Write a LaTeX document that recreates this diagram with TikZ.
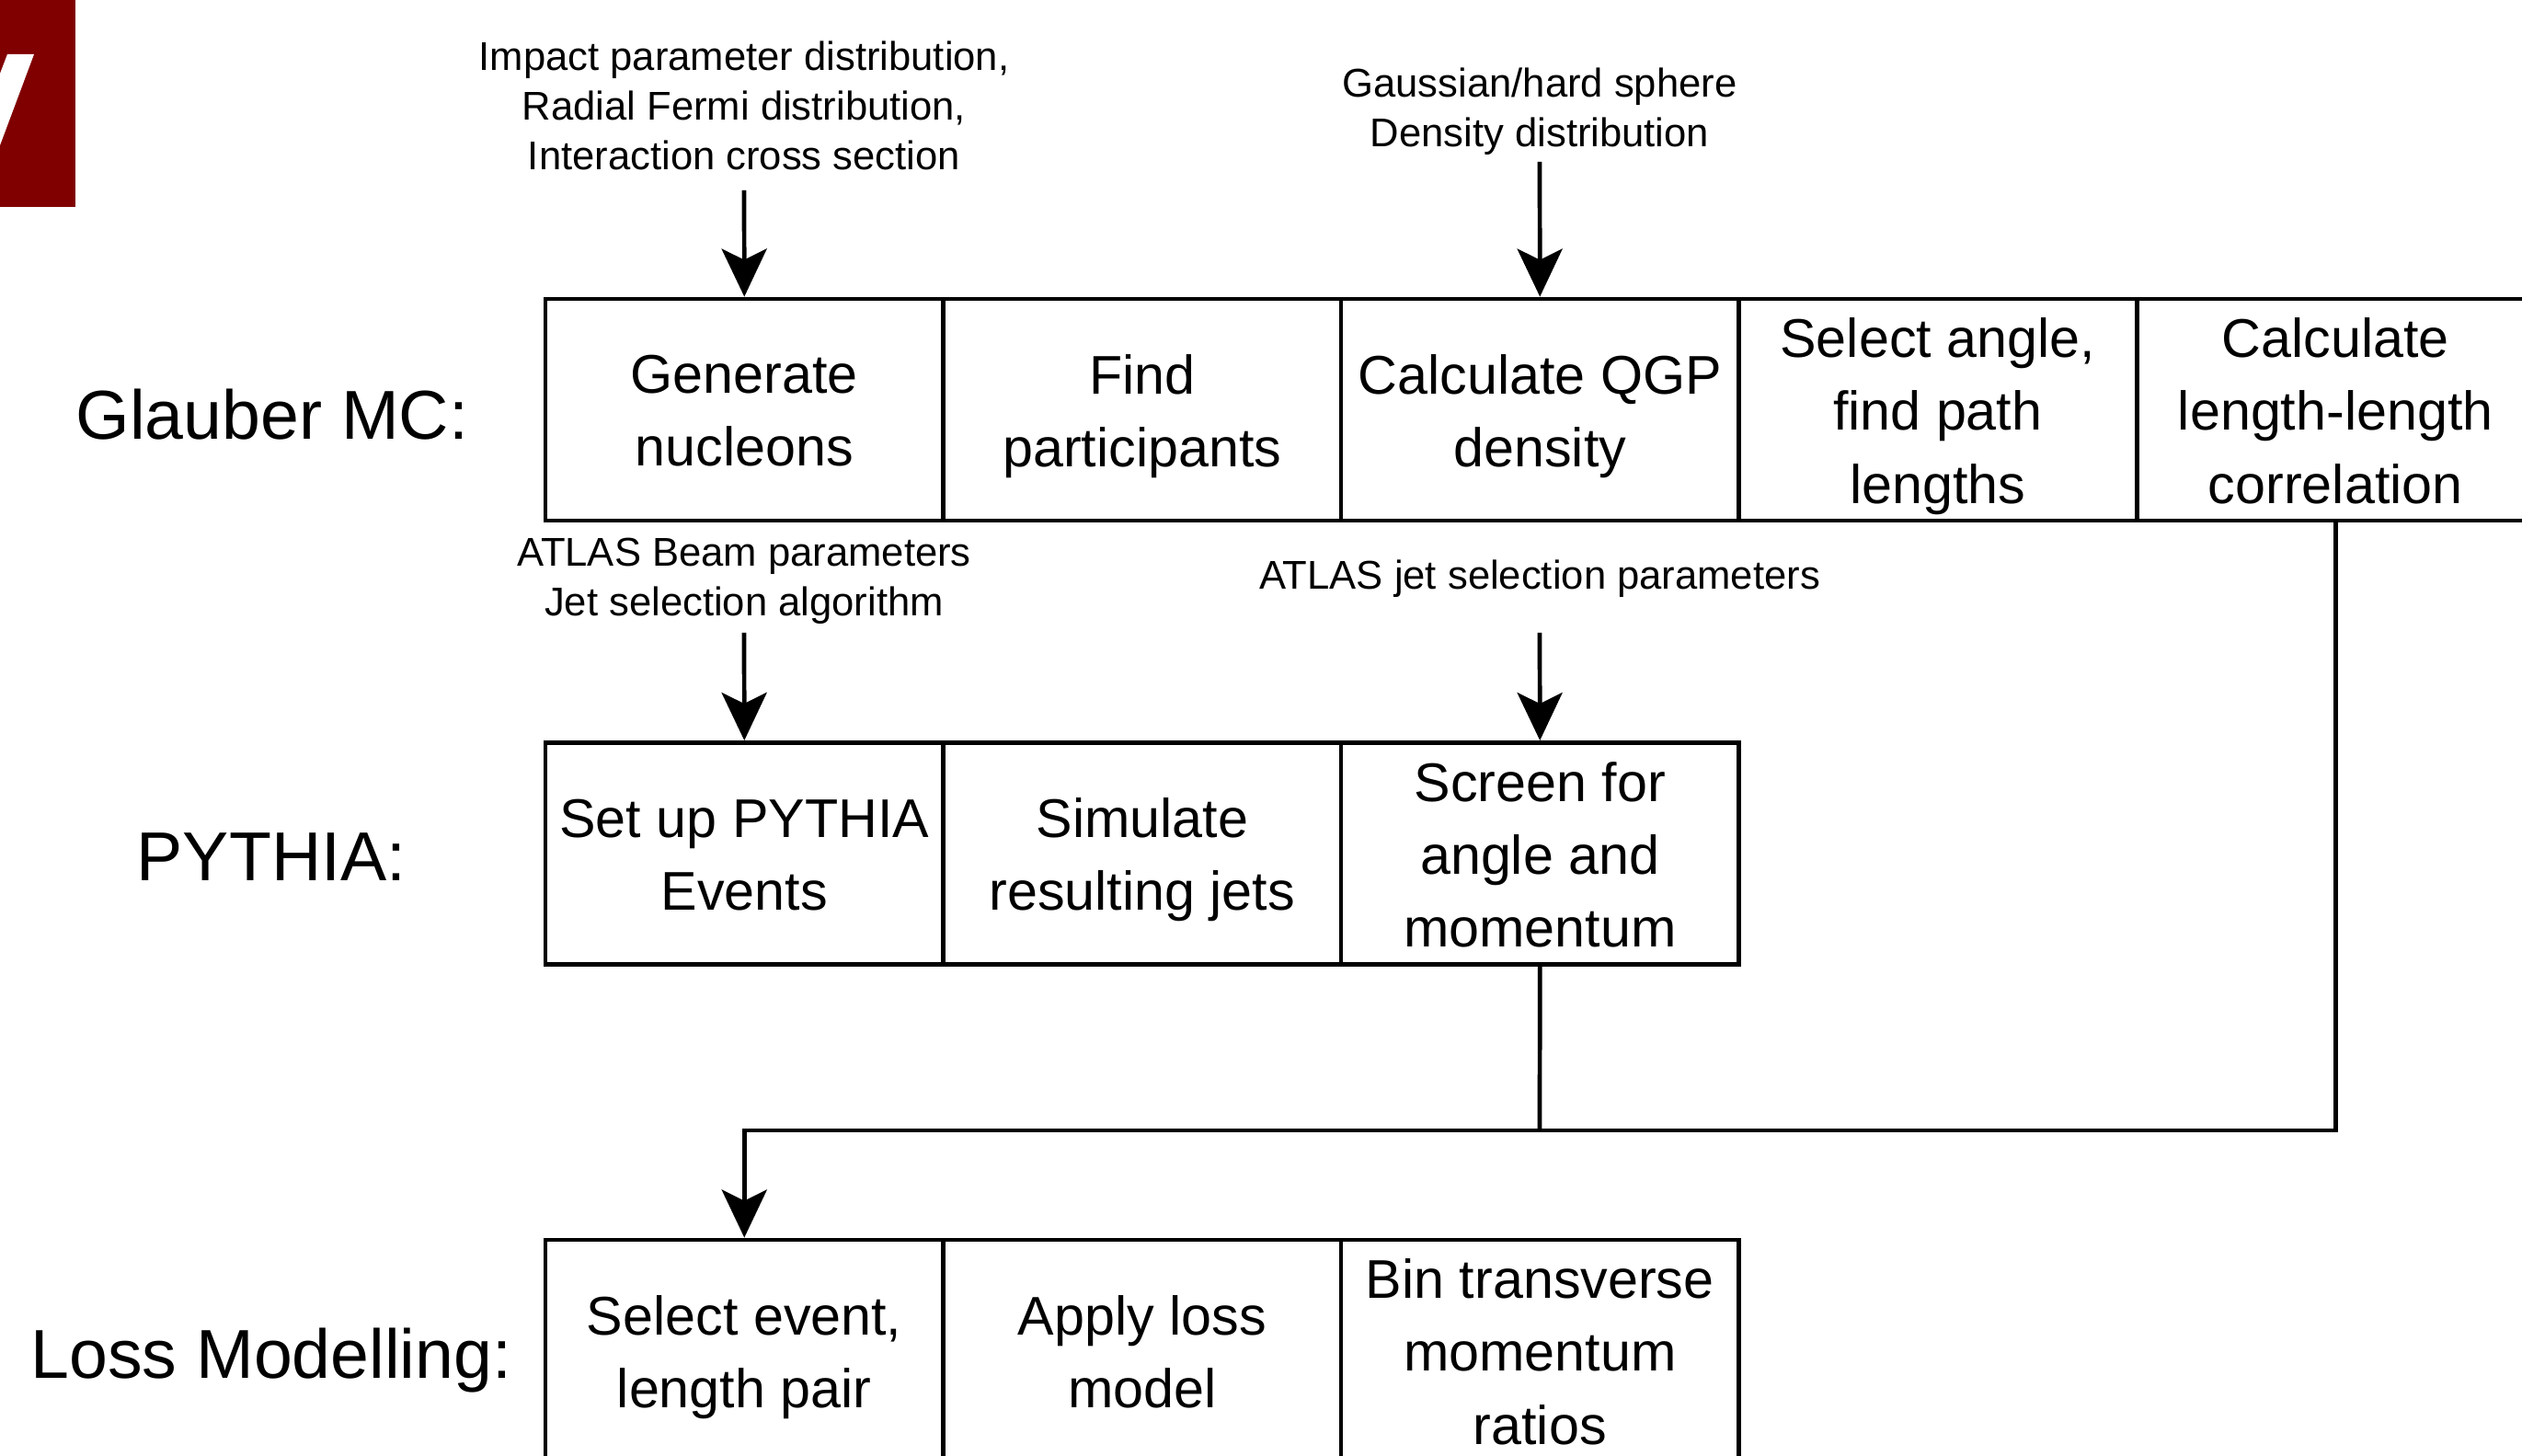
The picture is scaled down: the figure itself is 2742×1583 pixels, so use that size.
\documentclass[tikz,border=0pt]{standalone}
\usepackage{fontspec}
\setmainfont{Liberation Sans}
\usetikzlibrary{arrows.meta}
\definecolor{logored}{RGB}{128,0,0}

\begin{document}
\begin{tikzpicture}[
      x=0.01cm, y=-0.01cm,
      stepbox/.style = {draw, line width=1.34pt, inner sep=0pt,
                        minimum width=4.325cm, minimum height=2.41cm},
      steptext/.style = {align=center, inner sep=0pt, font=\fontsize{16.85}{22.5}\selectfont,
                         execute at begin node=\strut, execute at end node=\strut},
      note/.style = {align=center, inner sep=0pt, font=\fontsize{12.4}{15.4}\selectfont},
      rowlabel/.style = {inner sep=0pt, font=\fontsize{21.4}{26}\selectfont},
      flow/.style = {line width=1.34pt},
      >={Stealth[length=0.52cm, width=0.49cm, inset=0.12cm]}
    ]
    \clip (0,0) rectangle (2742,1583);

    % logo corner
    \fill[logored] (0,0) rectangle (82,225);
    \fill[white] (8,59) -- (37,59) -- (0,158) -- (0,80) -- cycle;

    % row labels
    \node[rowlabel] (glauber) at (296,451)  {Glauber MC:};
    \node[rowlabel] (pythia)  at (295,932)  {PYTHIA:};
    \node[rowlabel] (loss)    at (295,1479) {Loss Modelling:};

    % Glauber MC steps
    \foreach \i/\txt in {1/{Generate\\nucleons}, 2/{Find\\participants},
                         3/{Calculate QGP\\density}, 4/{Select angle,\\find path\\lengths},
                         5/{Calculate\\length-length\\correlation}}{
      \node[stepbox] (g\i) at (809.25+432.5*\i-432.5, 445.5) {};
      \node[steptext] (g\i txt) at ([yshift=-0.128cm]g\i.center) {\txt};
    }

    % PYTHIA steps
    \foreach \i/\txt in {1/{Set up PYTHIA\\Events}, 2/{Simulate\\resulting jets},
                         3/{Screen for\\angle and\\momentum}}{
      \node[stepbox] (p\i) at (809.25+432.5*\i-432.5, 928) {};
      \node[steptext] (p\i txt) at ([yshift=-0.128cm]p\i.center) {\txt};
    }

    % loss modelling steps
    \foreach \i/\txt in {1/{Select event,\\length pair}, 2/{Apply loss\\model},
                         3/{Bin transverse\\momentum\\ratios}}{
      \node[stepbox] (l\i) at (809.25+432.5*\i-432.5, 1468.5) {};
      \node[steptext] (l\i txt) at ([yshift=-0.128cm]l\i.center) {\txt};
    }

    % inputs
    \node[note] (impact) at (809,115) {Impact parameter distribution,\\Radial Fermi distribution,\\Interaction cross section};
    \node[note] (gauss)  at (1674,121) {Gaussian/hard sphere\\Density distribution};
    \node[note] (beam)   at (809,632) {ATLAS Beam parameters\\Jet selection algorithm};
    \node[note] (jetsel) at (1674,629) {ATLAS jet selection parameters};

    \coordinate (impactout) at (809,207);
    \coordinate (gaussout)  at (1674,176);
    \coordinate (beamout)   at (809,688);
    \coordinate (jetselout) at (1674,688);
    \coordinate (merge)     at (1674,1229);

    \draw[flow,->] (impactout) -- (g1.north);
    \draw[flow,->] (gaussout)  -- (g3.north);
    \draw[flow,->] (beamout)   -- (p1.north);
    \draw[flow,->] (jetselout) -- (p3.north);

    \draw[flow] (g5.south) |- (merge);
    \draw[flow] (p3.south) -- (merge);
    \draw[flow,->] (merge) -| (l1.north);
  \end{tikzpicture}
\end{document}
